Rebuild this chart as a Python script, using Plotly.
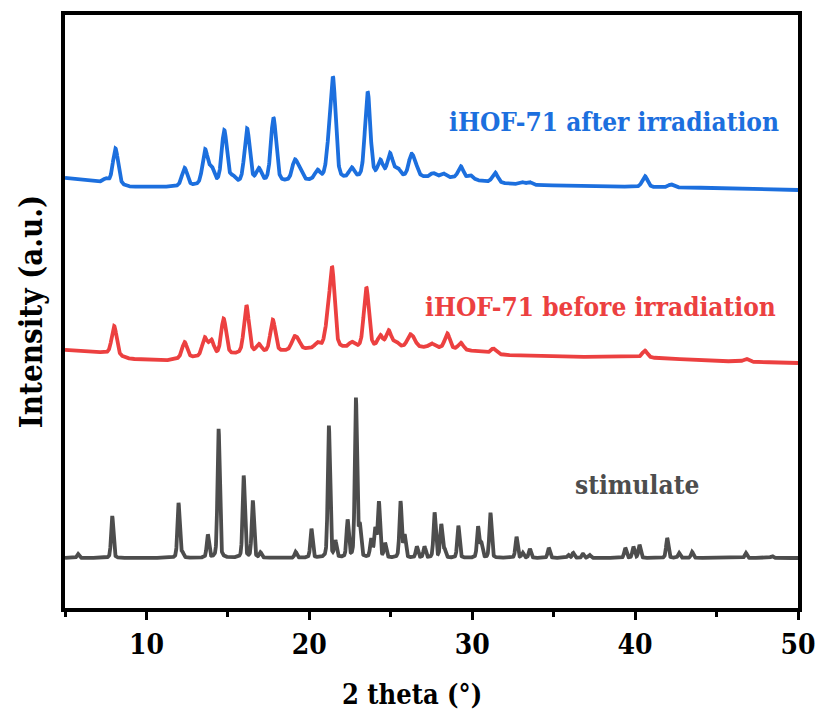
import numpy as np
import plotly.graph_objects as go

# 2-theta grid (degrees)
two_theta = np.linspace(5, 50, 4501)

# ---- simulated pattern ("stimulate"): peak positions / heights (a.u.)
sim_pos = [5.8, 7.9, 11.97, 12.2, 13.77, 14.43, 15.97, 16.53, 17.0, 19.16, 20.13, 21.2, 21.6,
           22.35, 22.86, 23.1, 23.8, 24.05, 24.27, 24.65, 25.6, 25.85, 26.6, 27.07, 27.69,
           28.1, 28.3, 29.15, 30.36, 30.56, 31.12, 32.72, 33.1, 33.54, 34.7, 35.9, 36.2,
           36.8, 37.2, 39.4, 39.9, 40.27, 41.97, 42.7, 43.5, 46.8, 48.4]
sim_hgt = [4, 42, 55, 5, 23, 129, 82, 57, 5, 6, 29, 132, 16,
           37, 159, 30, 18, 28, 55, 14, 56, 22, 11, 11, 45,
           33, 8, 32, 31, 14, 45, 21, 5, 9, 10, 3, 5,
           4, 3, 10, 11, 13, 20, 5, 6, 5, 2]
sim_base_x = [5, 50]
sim_base_y = [50, 50]

# ---- iHOF-71 before irradiation (red)
red_pos = [8.02, 12.34, 13.57, 13.98, 14.74, 16.14, 16.9, 17.76, 19.05, 19.3, 20.5, 21.1, 21.4,
           22.6, 23.5, 24.36, 24.87, 25.3, 26.15, 26.4, 27.5, 28.47, 29.3, 31.3, 40.6, 46.8]
red_hgt = [29, 16, 18, 15, 36, 48, 8, 32, 11, 8, 5, 20, 78,
           5, 60, 11, 16, 5, 10, 7, 4, 15, 7, 5, 7, 3]
red_base_x = [5, 7.5, 9, 11, 12.5, 15, 18, 20, 23, 26, 28, 30, 32, 35, 40, 45, 50]
red_base_y = [258, 255, 249, 247, 250, 253, 256, 259, 260, 261, 260, 257, 253, 251, 251, 247, 245]

# ---- iHOF-71 after irradiation (blue)
blue_pos = [7.5, 8.1, 12.34, 13.6, 14.0, 14.78, 15.3, 16.18, 16.9, 17.8, 19.1, 19.4, 20.5, 21.2,
            21.46, 22.6, 23.58, 24.36, 24.95, 25.4, 26.25, 26.5, 27.6, 28.2, 29.3, 29.9, 31.4,
            33.0, 33.5, 40.6, 42.2]
blue_hgt = [4, 36, 18, 34, 15, 53, 6, 54, 13, 64, 19, 10, 9, 25,
            95, 10, 86, 16, 23, 8, 19, 10, 4, 4, 12, 4, 10,
            3, 3, 11, 3]
blue_base_x = [5, 7, 9, 11.5, 14, 17, 20, 23, 26, 29, 31, 33, 40, 45, 50]
blue_base_y = [430, 426, 421, 421, 423, 425, 427, 429, 431, 430, 426, 423, 421, 420, 418]

series_names = ["stimulate", "iHOF-71 before irradiation", "iHOF-71 after irradiation"]
series_colors = ["#4d4d4d", "#ec4040", "#1c6fde"]
series_fwhm = [0.16, 0.36, 0.38]

def pattern(pos, hgt, bx, by, fwhm):
    y = np.interp(two_theta, bx, by).astype(float)
    s = fwhm / 2.3548
    g = fwhm / 2
    for p, h in zip(pos, hgt):
        gauss = np.exp(-0.5 * ((two_theta - p) / s) ** 2)
        lor = 1 / (1 + ((two_theta - p) / g) ** 2)
        y += h * (0.7 * gauss + 0.3 * lor)
    return y

curves = [
    pattern(sim_pos, sim_hgt, sim_base_x, sim_base_y, series_fwhm[0]),
    pattern(red_pos, red_hgt, red_base_x, red_base_y, series_fwhm[1]),
    pattern(blue_pos, blue_hgt, blue_base_x, blue_base_y, series_fwhm[2]),
]

fig = go.Figure()
for name, col, yv in zip(series_names, series_colors, curves):
    fig.add_trace(go.Scatter(x=two_theta, y=yv, mode="lines", name=name,
                             line=dict(color=col, width=3.8), showlegend=False))

FONT = "DejaVu Serif Condensed, DejaVu Serif"
label_pos = [(40.1, 123), (37.86, 301), (38.72, 486)]
label_size = [26, 26, 26]
for name, col, (lx, ly), fs in zip(series_names, series_colors, label_pos, label_size):
    fig.add_annotation(x=lx, y=ly, xref="x", yref="y", text="<b>" + name + "</b>", showarrow=False,
                       font=dict(family=FONT, size=fs, color=col))

# x-axis title
fig.add_annotation(x=0.473, y=-0.146, xref="paper", yref="paper", yanchor="middle",
                   text="<b>2 theta (°)</b>", showarrow=False,
                   font=dict(family=FONT, size=27, color="black"))

fig.update_layout(
    width=817, height=719,
    margin=dict(l=65, r=19, t=15, b=111, autoexpand=False),
    paper_bgcolor="white", plot_bgcolor="white",
    font=dict(family=FONT, color="black"),
)
fig.update_xaxes(range=[5, 50], tickvals=[10, 20, 30, 40, 50],
                 ticktext=["<b>10</b>", "<b>20</b>", "<b>30</b>", "<b>40</b>", "<b>50</b>"],
                 ticks="outside", ticklen=8, tickwidth=3, tickcolor="black",
                 minor=dict(tickvals=[5, 15, 25, 35, 45], ticks="outside", ticklen=5,
                            tickwidth=3, tickcolor="black", showgrid=False),
                 showline=True, linecolor="black", linewidth=4, mirror=True,
                 showgrid=False, zeroline=False,
                 tickfont=dict(family=FONT, size=28, color="black"))
fig.update_yaxes(range=[0, 593], showticklabels=False, ticks="",
                 showline=True, linecolor="black", linewidth=4, mirror=True,
                 showgrid=False, zeroline=False,
                 title=dict(text="<b>Intensity (a.u.)</b>", standoff=10,
                            font=dict(family=FONT, size=31, color="black")))

fig.write_html("out.html")
